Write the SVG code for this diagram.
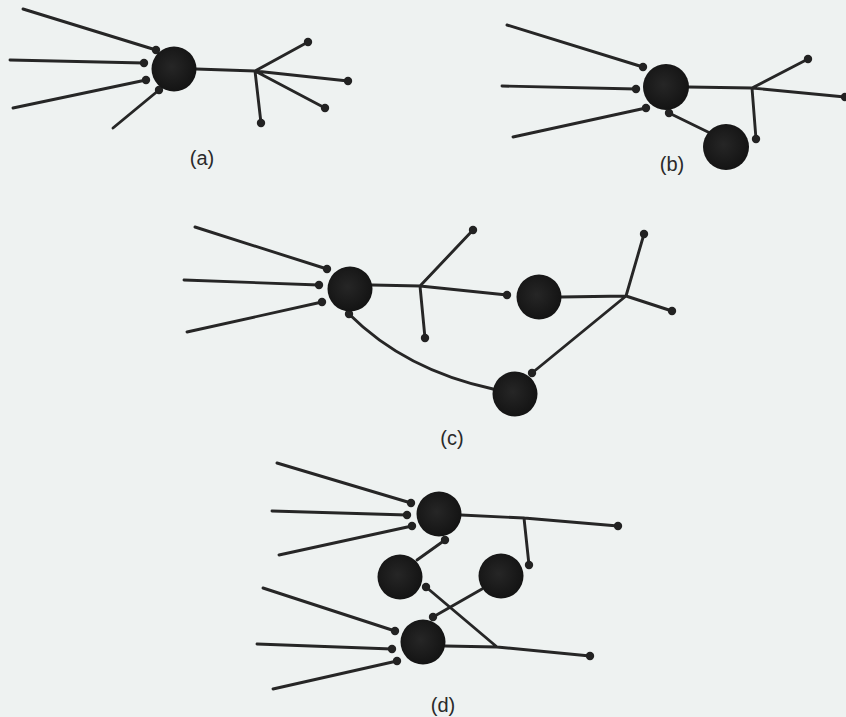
<svg xmlns="http://www.w3.org/2000/svg" width="846" height="717" viewBox="0 0 846 717">
<style>
.bg{fill:#eef2f1}
.ln{stroke:#262626;stroke-width:2.9;fill:none;stroke-linecap:round}
.dot{fill:#222222}
.lbl{font-family:"Liberation Sans",Arial,sans-serif;font-size:20px;fill:#2a2a2a;text-anchor:middle}
</style>
<defs>
<radialGradient id="sg" cx="0.45" cy="0.45" r="0.6">
<stop offset="0" stop-color="#262626"/>
<stop offset="1" stop-color="#121212"/>
</radialGradient>
</defs>
<rect class="bg" width="846" height="717"/>

<g id="connectors">
<!-- (a) -->
<path class="ln" d="M23,9 L156,50 M10,60 L144,63 M13,108 L146,80 M113,128 L159,90"/>
<path class="ln" d="M196,69 L255,71 L308,42 M255,71 L348,81 M255,71 L325,108 M255,71 L261,123"/>
<!-- (b) -->
<path class="ln" d="M507,25 L643,67 M502,86 L636,89 M513,137 L646,108 M669,113 L710,133"/>
<path class="ln" d="M688,87 L752,88 L808,59 M752,88 L845,97 M752,88 L756,139"/>
<!-- (c) -->
<path class="ln" d="M195,227 L327,269 M184,280 L319,285 M187,332 L322,302"/>
<path class="ln" d="M372,285 L420,286 L473,230 M420,286 L425,338 M420,286 L507,295"/>
<path class="ln" d="M561,297 L626,296 L644,234 M626,296 L672,311 M626,296 L532,373"/>
<path class="ln" d="M493,389 Q405,370 349,314"/>
<!-- (d) -->
<path class="ln" d="M277,463 L411,503 M272,511 L407,515 M279,555 L412,526"/>
<path class="ln" d="M461,515 L524,518 L618,526 M524,518 L529,565"/>
<path class="ln" d="M417,560 L445,540"/>
<path class="ln" d="M482,589 L433,617"/>
<path class="ln" d="M445,646 L497,647 L590,656 M497,647 L426,587"/>
<path class="ln" d="M263,588 L395,631 M257,644 L392,649 M273,689 L397,661"/>
</g>

<g id="dots">
<circle class="dot" cx="156" cy="50" r="4.2"/><circle class="dot" cx="144" cy="63" r="4.2"/><circle class="dot" cx="146" cy="80" r="4.2"/><circle class="dot" cx="159" cy="90" r="4.2"/>
<circle class="dot" cx="308" cy="42" r="4.2"/><circle class="dot" cx="348" cy="81" r="4.2"/><circle class="dot" cx="325" cy="108" r="4.2"/><circle class="dot" cx="261" cy="123" r="4.2"/>
<circle class="dot" cx="643" cy="67" r="4.2"/><circle class="dot" cx="636" cy="89" r="4.2"/><circle class="dot" cx="646" cy="108" r="4.2"/><circle class="dot" cx="669" cy="113" r="4.2"/>
<circle class="dot" cx="808" cy="59" r="4.2"/><circle class="dot" cx="845" cy="97" r="4.2"/><circle class="dot" cx="756" cy="139" r="4.2"/>
<circle class="dot" cx="327" cy="269" r="4.2"/><circle class="dot" cx="319" cy="285" r="4.2"/><circle class="dot" cx="322" cy="302" r="4.2"/>
<circle class="dot" cx="473" cy="230" r="4.2"/><circle class="dot" cx="425" cy="338" r="4.2"/><circle class="dot" cx="507" cy="295" r="4.2"/>
<circle class="dot" cx="644" cy="234" r="4.2"/><circle class="dot" cx="672" cy="311" r="4.2"/><circle class="dot" cx="532" cy="373" r="4.2"/><circle class="dot" cx="349" cy="314" r="4.2"/>
<circle class="dot" cx="411" cy="503" r="4.2"/><circle class="dot" cx="407" cy="515" r="4.2"/><circle class="dot" cx="412" cy="526" r="4.2"/>
<circle class="dot" cx="618" cy="526" r="4.2"/><circle class="dot" cx="529" cy="565" r="4.2"/><circle class="dot" cx="445" cy="540" r="4.2"/>
<circle class="dot" cx="433" cy="617" r="4.2"/><circle class="dot" cx="590" cy="656" r="4.2"/><circle class="dot" cx="426" cy="587" r="4.2"/>
<circle class="dot" cx="395" cy="631" r="4.2"/><circle class="dot" cx="392" cy="649" r="4.2"/><circle class="dot" cx="397" cy="661" r="4.2"/>
</g>

<g id="a-n1"><circle cx="174" cy="69" r="22.5" fill="url(#sg)"/></g>
<g id="b-n1"><circle cx="666" cy="87" r="23" fill="url(#sg)"/></g>
<g id="b-n2"><circle cx="726" cy="147" r="23" fill="url(#sg)"/></g>
<g id="c-n1"><circle cx="350" cy="289" r="22.5" fill="url(#sg)"/></g>
<g id="c-n2"><circle cx="539" cy="297" r="22.5" fill="url(#sg)"/></g>
<g id="c-n3"><circle cx="515" cy="394" r="22.5" fill="url(#sg)"/></g>
<g id="d-n1"><circle cx="439" cy="514" r="22.5" fill="url(#sg)"/></g>
<g id="d-n2"><circle cx="400" cy="577" r="22.5" fill="url(#sg)"/></g>
<g id="d-n3"><circle cx="501" cy="576" r="22.5" fill="url(#sg)"/></g>
<g id="d-n4"><circle cx="423" cy="642" r="22.5" fill="url(#sg)"/></g>

<g id="labels">
<text class="lbl" x="202" y="165">(a)</text>
<text class="lbl" x="672" y="171">(b)</text>
<text class="lbl" x="452" y="445">(c)</text>
<text class="lbl" x="443" y="712">(d)</text>
</g>
</svg>
